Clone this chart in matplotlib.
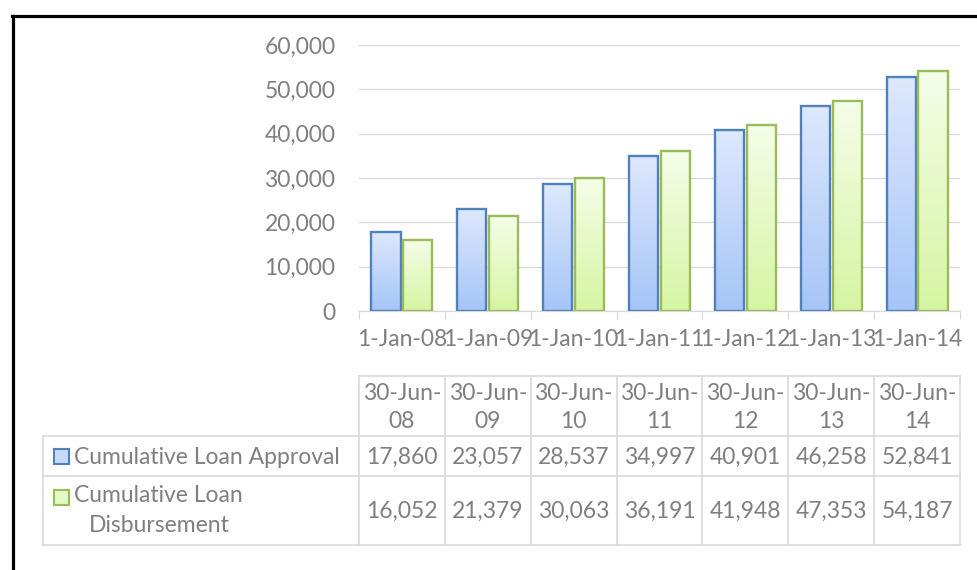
import matplotlib

matplotlib.use("Agg")
import matplotlib.pyplot as plt
import numpy as np
from matplotlib.lines import Line2D
from matplotlib.patches import Rectangle
from matplotlib.ticker import FuncFormatter

plt.rcParams["font.family"] = ["Lato", "DejaVu Sans"]

# data
tick_dates = ["1-Jan-08", "1-Jan-09", "1-Jan-10", "1-Jan-11", "1-Jan-12", "1-Jan-13", "1-Jan-14"]
period_ends = ["30-Jun-\n08", "30-Jun-\n09", "30-Jun-\n10", "30-Jun-\n11",
               "30-Jun-\n12", "30-Jun-\n13", "30-Jun-\n14"]
approval = [17860, 23057, 28537, 34997, 40901, 46258, 52841]
disbursement = [16052, 21379, 30063, 36191, 41948, 47353, 54187]
series_names = ["Cumulative Loan Approval", "Cumulative Loan\nDisbursement"]

TXT = "#7f7f7f"
GRID = "#d9d9d9"
FS = 16.5
W, H = 978, 570


def fx(px):
    return px / W


def fy(py):
    return 1 - py / H


fig = plt.figure(figsize=(W / 100, H / 100), dpi=100)

# black frame (top and left visible)
fig.add_artist(Line2D([fx(13), fx(13)], [fy(16), 0], color="black", lw=2.3))
fig.add_artist(Line2D([fx(12), 1], [fy(16), fy(16)], color="black", lw=2.3))

# ---- chart ----
ax = fig.add_axes([fx(359), fy(311), fx(960) - fx(359), fy(45) - fy(311)])
x = np.arange(len(approval))
bw, off = 0.34, 0.185

styles = [
    (approval, -off, "#4f81bd", ((221, 232, 252), (166, 197, 248))),
    (disbursement, off, "#9bbb59", ((244, 253, 232), (214, 245, 163))),
]
for vals, dx, edge, (top, bot) in styles:
    t = np.linspace(0, 1, 64)[:, None]
    grad = (np.array(top)[None, :] * (1 - t) + np.array(bot)[None, :] * t) / 255
    grad = grad[:, None, :]
    bars = ax.bar(x + dx, vals, bw, facecolor="none", edgecolor=edge, linewidth=1.7, zorder=3)
    for b in bars:
        ax.imshow(grad, extent=[b.get_x(), b.get_x() + b.get_width(), 0, b.get_height()],
                  aspect="auto", origin="upper", zorder=2, interpolation="bilinear")

ax.set_xlim(-0.5, len(x) - 0.5)
ax.set_ylim(0, 60000)
ax.set_yticks(range(0, 60001, 10000))
ax.yaxis.set_major_formatter(FuncFormatter(lambda v, p: f"{v:,.0f}"))
ax.grid(axis="y", color=GRID, lw=0.9)
ax.set_axisbelow(True)
for s in ["top", "right", "left"]:
    ax.spines[s].set_visible(False)
ax.spines["bottom"].set_color(GRID)
ax.spines["bottom"].set_linewidth(0.9)
ax.tick_params(axis="y", length=0, pad=17, labelsize=FS, labelcolor=TXT)

ax.set_xticks(np.arange(-0.5, len(x)), labels=[])
ax.set_xticks(x, labels=tick_dates, minor=True)
ax.tick_params(axis="x", which="major", length=5.5, color=GRID, width=0.9)
ax.tick_params(axis="x", which="minor", length=0, pad=13, labelsize=FS, labelcolor=TXT)

# ---- data table ----
unit = (960 - 359) / len(x)
xleft = -0.5 - (359 - 43) / unit
tax = fig.add_axes([fx(43), fy(545), fx(960) - fx(43), fy(376) - fy(545)])
tax.set_xlim(xleft, len(x) - 0.5)
tax.set_ylim(169, 0)
tax.axis("off")

lkw = dict(color=GRID, lw=1.2, clip_on=False)
tax.plot([-0.5, len(x) - 0.5], [0, 0], **lkw)
for yy in [60, 100, 169]:
    tax.plot([xleft, len(x) - 0.5], [yy, yy], **lkw)
tax.plot([xleft, xleft], [60, 169], **lkw)
for xx in np.arange(-0.5, len(x)):
    tax.plot([xx, xx], [0, 169], **lkw)

for i in x:
    top, bottom = period_ends[i].split("\n")
    tax.text(i, 17, top, ha="center", va="center", fontsize=FS, color=TXT)
    tax.text(i, 45, bottom, ha="center", va="center", fontsize=FS, color=TXT)
    tax.text(i, 81, f"{approval[i]:,}", ha="center", va="center", fontsize=FS, color=TXT)
    tax.text(i, 135, f"{disbursement[i]:,}", ha="center", va="center", fontsize=FS, color=TXT)

# legend keys + row labels
sq = 15 / unit
tax.add_patch(Rectangle((xleft + 11 / unit, 73), sq, 15, facecolor="#c8dafa",
                        edgecolor="#4f81bd", lw=1.5, clip_on=False))
tax.add_patch(Rectangle((xleft + 11 / unit, 114), sq, 15, facecolor="#e4f8c8",
                        edgecolor="#9bbb59", lw=1.5, clip_on=False))
tax.text(xleft + 31 / unit, 81, series_names[0], ha="left", va="center", fontsize=FS, color=TXT)
l1, l2 = series_names[1].split("\n")
tax.text(xleft + 31 / unit, 120, l1, ha="left", va="center", fontsize=FS, color=TXT)
tax.text(xleft + 46 / unit, 150, l2, ha="left", va="center", fontsize=FS, color=TXT)

fig.savefig("out.png", dpi=100)
